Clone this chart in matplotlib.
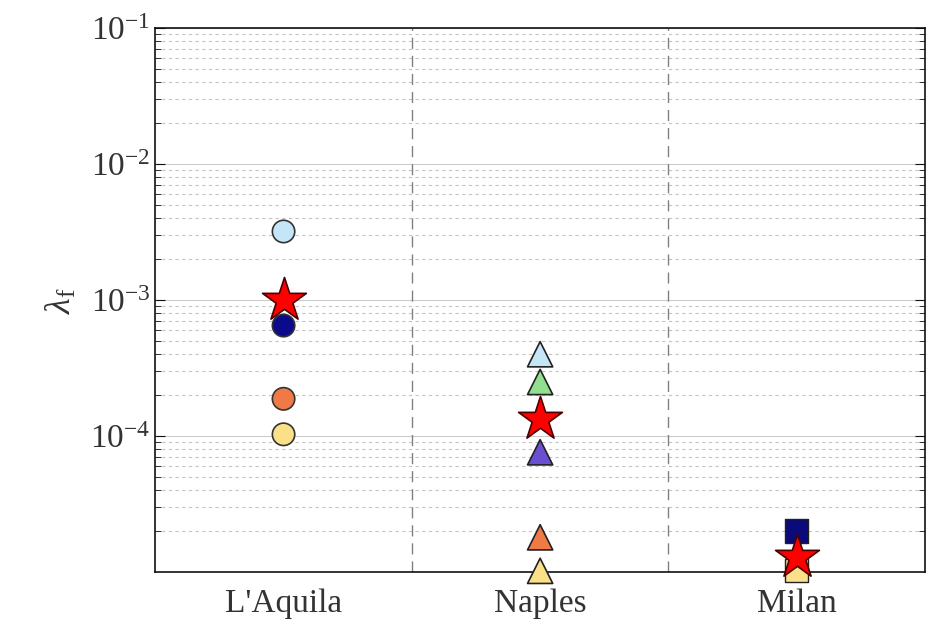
import matplotlib.pyplot as plt
import numpy as np

plt.rcParams['font.family'] = ['Liberation Serif', 'DejaVu Serif']
plt.rcParams['mathtext.fontset'] = 'custom'
plt.rcParams['mathtext.rm'] = 'Liberation Serif'
plt.rcParams['mathtext.it'] = 'Liberation Serif:italic'

# Data
cities = ["L'Aquila", "Naples", "Milan"]

aquila_vals = [3.2e-3, 6.5e-4, 1.88e-4, 1.03e-4]
aquila_colors = ['#c4e6f6', '#0a0a8a', '#f07a45', '#fbe08a']

naples_vals = [4.0e-4, 2.5e-4, 7.6e-5, 1.8e-5, 1.02e-5]
naples_colors = ['#c4e6f6', '#90e090', '#6a4fd0', '#ef7a45', '#fbe08a']

milan_vals = [2.0e-5, 1.02e-5]
milan_colors = ['#0a0a7a', '#fbe08a']

mean_vals = [1.0e-3, 1.34e-4, 1.3e-5]

# Creating figure and axes
fig = plt.figure(figsize=(9.41, 6.42), dpi=100)
ax = fig.add_axes([0.165, 0.109, 0.818, 0.847])

ax.set_yscale('log')
ax.set_ylim(1e-5, 1e-1)
ax.set_xlim(0.5, 3.5)

# Grid lines
ax.yaxis.grid(True, which='major', color='#cccccc', linestyle='-', linewidth=0.8)
ax.yaxis.grid(True, which='minor', color='#c4c4c4', linestyle=(0, (3, 3)), linewidth=0.8)
ax.set_axisbelow(True)

# Separators between cities
for xs in [1.5, 2.5]:
    ax.axvline(xs, color='#808080', linestyle=(0, (8, 5)), linewidth=1.0, zorder=1)

# Individual estimates
ax.scatter([1] * len(aquila_vals), aquila_vals, s=260, marker='o', c=aquila_colors,
           edgecolors='#333333', linewidths=1.2, zorder=3, clip_on=False)
ax.scatter([2] * len(naples_vals), naples_vals, s=330, marker='^', c=naples_colors,
           edgecolors='#222222', linewidths=1.2, zorder=3, clip_on=False)
ax.scatter([3] * len(milan_vals), milan_vals, s=280, marker='s', c=milan_colors,
           edgecolors='#222222', linewidths=1.0, zorder=3, clip_on=False)

# Mean values
ax.scatter([1, 2, 3], mean_vals, s=1100, marker='*', c='#ff0000',
           edgecolors='#4a0000', linewidths=1.2, zorder=4, clip_on=False)

ax.set_xticks([1, 2, 3])
ax.set_xticklabels(cities)
ax.set_yticks([1e-4, 1e-3, 1e-2, 1e-1])
ax.set_yticklabels([r'$10^{-4}$', r'$10^{-3}$', r'$10^{-2}$', r'$10^{-1}$'])

ax.tick_params(axis='both', which='both', direction='in', labelsize=24,
               colors='#111111', labelcolor='#333333', right=True)
ax.tick_params(axis='x', length=0, pad=12)
ax.tick_params(axis='y', which='major', length=7)
ax.tick_params(axis='y', which='minor', length=4)

for sp in ax.spines.values():
    sp.set_linewidth(1.2)
    sp.set_color('#111111')

ax.set_ylabel(r'$\lambda_{\rm f}$', fontsize=26, color='#333333', labelpad=8)

fig.savefig('out.png', dpi=100)
